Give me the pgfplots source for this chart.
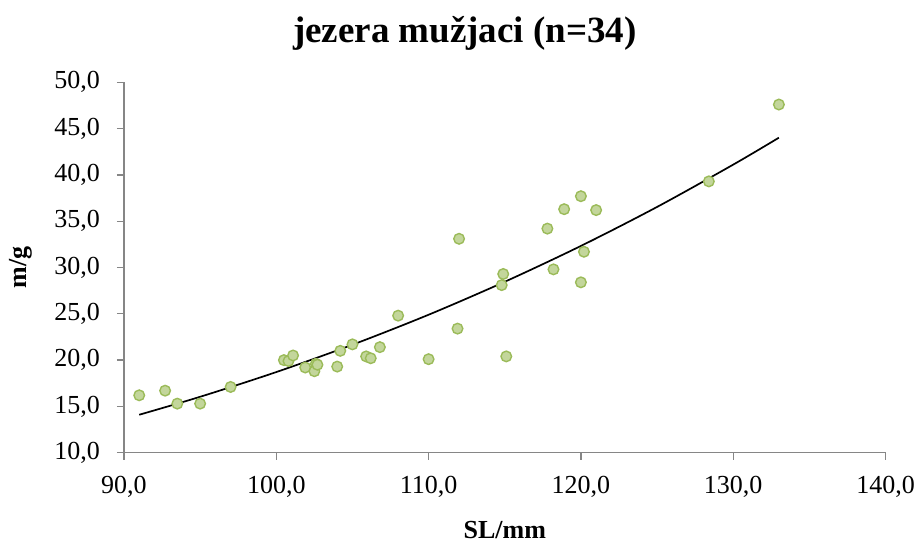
\documentclass[border=0pt]{standalone}
\usepackage{pgfplots}
\pgfplotsset{compat=1.18}
\usepackage{fontspec}
\setmainfont{Liberation Serif}
\definecolor{ptfill}{RGB}{195,214,155}
\definecolor{ptedge}{RGB}{155,187,89}
\definecolor{axgray}{RGB}{134,134,134}
\begin{document}
\begin{tikzpicture}[x=1pt,y=1pt]
\begin{axis}[
  at={(0pt,0pt)}, anchor=south west,
  scale only axis, width=761.5pt, height=370.4pt,
  xmin=90, xmax=140, ymin=10, ymax=50,
  xtick={90,100,...,140}, ytick={10,15,...,50},
  axis lines=left,
  axis line style={-, draw=axgray, line width=1.3pt},
  tick style={draw=axgray, line width=1.3pt},
  tick align=outside, major tick length=7pt,
  /pgf/number format/.cd, fixed, fixed zerofill, precision=1, use comma, 1000 sep={}, assume math mode=true,
  /pgfplots/.cd,
  ticklabel style={font=\fontsize{26}{30}\selectfont},
  yticklabel style={anchor=east, inner sep=0pt, xshift=-17pt},
  xticklabel style={anchor=base, inner sep=0pt, yshift=-34pt},
  xlabel={\textbf{SL/mm}},
  ylabel={\textbf{m/g}},
  label style={font=\fontsize{26}{30}\selectfont},
  xlabel style={at={(axis description cs:0.5,0)}, anchor=base, yshift=-85.3pt},
  ylabel style={at={(axis description cs:0,0.5)}, anchor=center, yshift=103pt},
  clip=false,
]
\addplot[only marks, mark=*, mark size=5.3pt, mark options={fill=ptfill, draw=ptedge, line width=1.4pt}] coordinates {
(91.0,16.2) (92.7,16.7) (93.5,15.3) (95.0,15.3) (97.0,17.1)
(100.5,20.0) (100.8,19.9) (101.1,20.5) (101.9,19.2) (102.6,19.6) (102.5,18.8) (102.7,19.5)
(104.0,19.3) (104.2,21.0) (105.0,21.7) (105.9,20.4) (106.2,20.2) (106.8,21.4) (108.0,24.8) (110.0,20.1)
(112.0,33.1) (111.9,23.4) (114.9,29.3) (114.8,28.1) (115.1,20.4)
(117.8,34.2) (118.9,36.3) (120.0,37.7) (121.0,36.2) (118.2,29.8) (120.2,31.7) (120.0,28.4)
(128.4,39.3) (133.0,47.6)
};
\addplot[black, line width=1.7pt, smooth, no marks] coordinates {
(91,14.10) (95,16.04) (100,18.71) (105,21.66) (110,24.90) (115,28.46) (120,32.33) (125,36.54) (130,41.11) (133,44.02)
};
\end{axis}
\node[anchor=base, font=\bfseries\fontsize{37}{42}\selectfont, inner sep=0pt] at (340.9,410.7) {jezera mužjaci (n=34)};
\pgfresetboundingbox
\useasboundingbox (-124,-89.3) rectangle (793,452.7);
\end{tikzpicture}
\end{document}
